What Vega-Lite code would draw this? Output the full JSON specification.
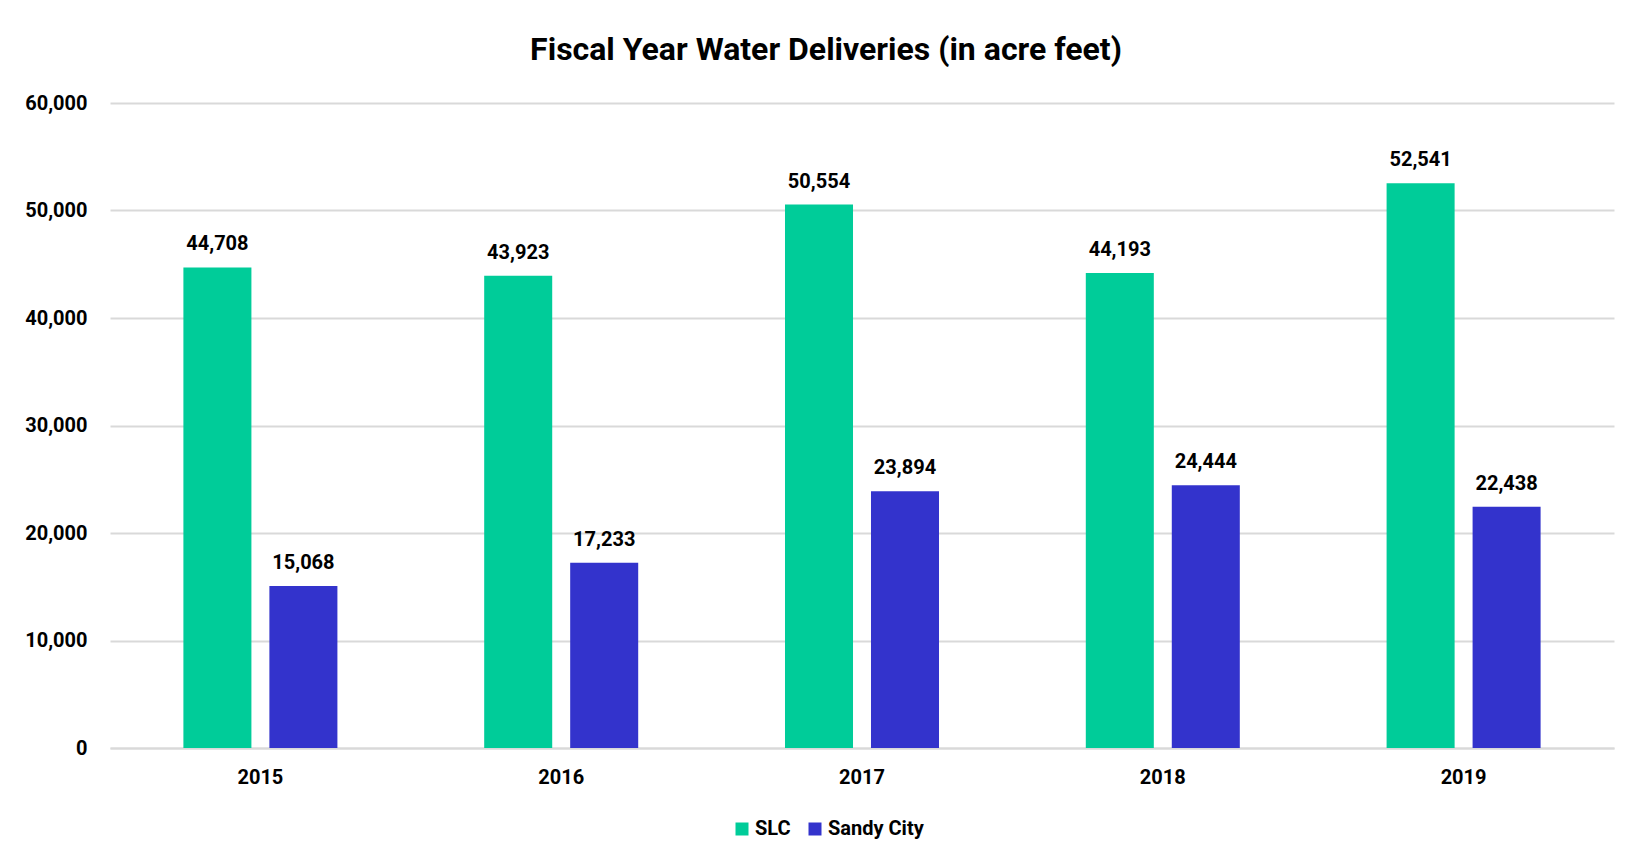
{
  "$schema": "https://vega.github.io/schema/vega-lite/v6.json",
  "width": 1504,
  "height": 645,
  "autosize": {"type": "none"},
  "padding": {"left": 110, "top": 103, "right": 24, "bottom": 114},
  "background": "white",
  "data": {
    "values": [
      {"year": "2015", "series": "SLC", "value": 44708},
      {"year": "2015", "series": "Sandy City", "value": 15068},
      {"year": "2016", "series": "SLC", "value": 43923},
      {"year": "2016", "series": "Sandy City", "value": 17233},
      {"year": "2017", "series": "SLC", "value": 50554},
      {"year": "2017", "series": "Sandy City", "value": 23894},
      {"year": "2018", "series": "SLC", "value": 44193},
      {"year": "2018", "series": "Sandy City", "value": 24444},
      {"year": "2019", "series": "SLC", "value": 52541},
      {"year": "2019", "series": "Sandy City", "value": 22438}
    ]
  },
  "title": {
    "text": "Fiscal Year Water Deliveries (in acre feet)",
    "font": "Roboto",
    "fontSize": 32,
    "fontWeight": "bold",
    "color": "#000000",
    "anchor": "middle",
    "dx": -36,
    "offset": 26
  },
  "encoding": {
    "x": {
      "field": "year",
      "type": "nominal",
      "scale": {"paddingInner": 0.488, "paddingOuter": 0.244},
      "axis": {
        "title": null,
        "labelAngle": 0,
        "labelFont": "Roboto",
        "labelFontSize": 20,
        "labelFontWeight": "bold",
        "labelColor": "#000000",
        "labelPadding": 19,
        "ticks": false,
        "domain": true,
        "domainColor": "#d9d9d9",
        "domainWidth": 2,
        "grid": false
      }
    },
    "xOffset": {
      "field": "series",
      "type": "nominal",
      "sort": ["SLC", "Sandy City"],
      "scale": {"paddingInner": 0.209, "paddingOuter": 0}
    },
    "y": {
      "field": "value",
      "type": "quantitative",
      "scale": {"domain": [0, 60000], "nice": false},
      "axis": {
        "title": null,
        "values": [0, 10000, 20000, 30000, 40000, 50000, 60000],
        "format": ",.0f",
        "labelFont": "Roboto",
        "labelFontSize": 20,
        "labelFontWeight": "bold",
        "labelColor": "#000000",
        "labelPadding": 23,
        "ticks": false,
        "domain": false,
        "grid": true,
        "gridColor": "#d9d9d9",
        "gridWidth": 2
      }
    }
  },
  "layer": [
    {
      "mark": {"type": "bar"},
      "encoding": {
        "color": {
          "field": "series",
          "type": "nominal",
          "sort": ["SLC", "Sandy City"],
          "scale": {"domain": ["SLC", "Sandy City"], "range": ["#00CC99", "#3333CC"]},
          "legend": {
            "title": null,
            "orient": "none",
            "direction": "horizontal",
            "legendX": 622,
            "legendY": 716,
            "symbolType": "square",
            "symbolSize": 169,
            "symbolStrokeWidth": 0,
            "labelFont": "Roboto",
            "labelFontSize": 20,
            "labelFontWeight": "bold",
            "labelColor": "#000000",
            "labelOffset": 3,
            "columnPadding": 14
          }
        }
      }
    },
    {
      "mark": {
        "type": "text",
        "dy": -17,
        "baseline": "alphabetic",
        "font": "Roboto",
        "fontSize": 20,
        "fontWeight": "bold",
        "color": "#000000"
      },
      "encoding": {
        "text": {"field": "value", "type": "quantitative", "format": ",.0f"}
      }
    }
  ],
  "config": {
    "view": {"stroke": null}
  }
}
